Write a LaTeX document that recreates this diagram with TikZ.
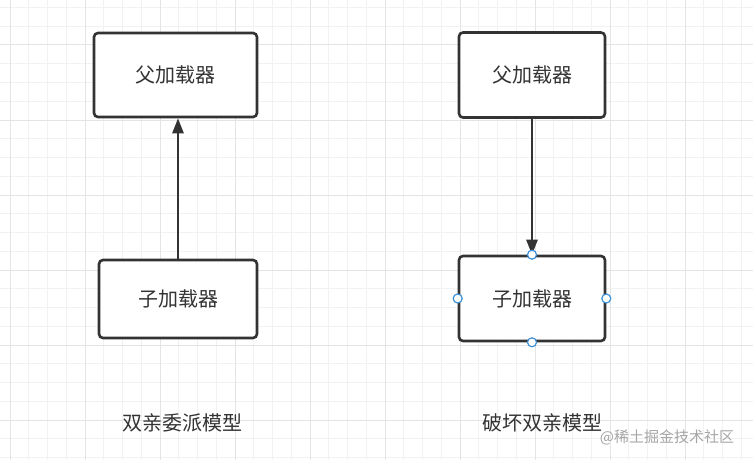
\documentclass[tikz,border=0pt]{standalone}
\usepackage{fontspec}
\setmainfont{Noto Sans CJK SC}
\usepackage{xcolor}
\usetikzlibrary{arrows.meta,positioning}

\definecolor{minorgray}{HTML}{F2F2F2}
\definecolor{majorgray}{HTML}{E4E4E4}
\definecolor{boxline}{HTML}{333333}
\definecolor{handleblue}{HTML}{3D8FD6}

\begin{document}
\begin{tikzpicture}[
    x=1pt, y=-1pt,
    every node/.style={font=\fontsize{20pt}{24pt}\selectfont, text=boxline},
    loader/.style={draw=boxline, rounded corners=4pt, fill=white, align=center,
                   inner sep=0pt, line width=2.6pt},
    caption/.style={inner sep=0pt},
    handle/.style={circle, draw=handleblue, fill=white, line width=1.2pt,
                   minimum size=9pt, inner sep=0pt},
    arrow/.style={-{Triangle[length=15pt,width=11pt]}, line width=2.6pt, draw=boxline},
    minorline/.style={draw=minorgray, line width=1pt},
    majorline/.style={draw=majorgray, line width=1pt},
]
\useasboundingbox[fill=white] (0,0) rectangle (753,460);

% background grid
\foreach \i in {0,...,39} {\draw[minorline] ({10+18.75*\i},0) -- ++(0,460);}
\foreach \j in {0,...,24} {\draw[minorline] (0,{7.5+18.75*\j}) -- ++(753,0);}
\foreach \i in {0,...,9}  {\draw[majorline] ({10+75*\i},0) -- ++(0,460);}
\foreach \j in {0,...,5}  {\draw[majorline] (0,{45+75*\j}) -- ++(753,0);}

% left: parent delegation
\node[loader, minimum width=163pt, minimum height=84pt] (parent1) at (175.5,75) {父加载器};
\node[loader, minimum width=158pt, minimum height=78pt] (child1)  at (178,299)  {子加载器};
\draw[arrow] (child1.north) -- (child1.north |- parent1.south);

% right: broken delegation
\node[loader, minimum width=146pt, minimum height=85pt] (parent2) at (532,75)    {父加载器};
\node[loader, minimum width=146pt, minimum height=85pt] (child2)  at (532,298.5) {子加载器};
\draw[arrow] (parent2) -- (child2);

% connection handles
\node[handle] (hn) at (child2.north) {};
\node[handle] (hs) at (child2.south) {};
\node[handle] (hw) at (child2.west)  {};
\node[handle] (he) at (child2.east)  {};

% captions
\node[caption] (cap1) at (182,423) {双亲委派模型};
\node[caption] (cap2) at (542,423) {破坏双亲模型};
\node[caption, font=\fontsize{15pt}{18pt}\selectfont, text=black!35] (wm) at (667,437) {@稀土掘金技术社区};
\end{tikzpicture}
\end{document}
